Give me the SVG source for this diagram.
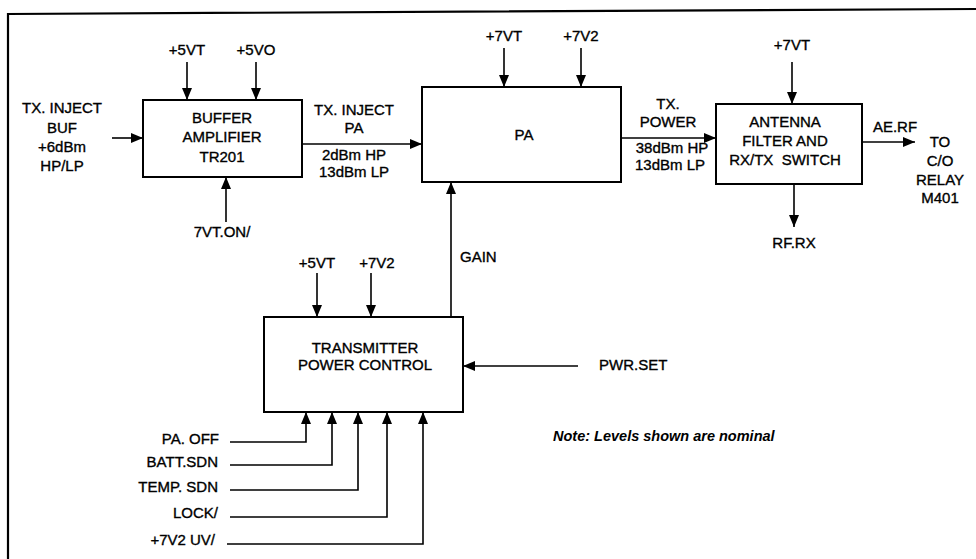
<svg xmlns="http://www.w3.org/2000/svg" width="976" height="559" viewBox="0 0 976 559">
<defs>
<style>
.t{font-family:"Liberation Sans",Arial,sans-serif;font-size:15px;fill:#000;stroke:#000;stroke-width:0.35}
.m{text-anchor:middle}
.e{text-anchor:end}
.note{font-family:"Liberation Sans",Arial,sans-serif;font-size:14.5px;font-weight:bold;font-style:italic;fill:#000}
.box{fill:#fff;stroke:#000;stroke-width:2}
.w{fill:none;stroke:#000;stroke-width:1.6}
</style>
<marker id="ar" viewBox="0 0 12 10" refX="12" refY="5" markerWidth="12" markerHeight="10" markerUnits="userSpaceOnUse" orient="auto">
<path d="M0,0 L12,5 L0,10 Z" fill="#000"/>
</marker>
</defs>
<rect width="976" height="559" fill="#fff"/>
<polyline points="8,562 8,14 976,9" fill="none" stroke="#000" stroke-width="2.2"/>

<g id="connectors">
<line class="w" x1="112" y1="138" x2="143" y2="138" marker-end="url(#ar)"/>
<line class="w" x1="187" y1="62" x2="187" y2="100" marker-end="url(#ar)"/>
<line class="w" x1="256" y1="62" x2="256" y2="100" marker-end="url(#ar)"/>
<line class="w" x1="226" y1="222" x2="226" y2="177" marker-end="url(#ar)"/>
<line class="w" x1="302" y1="144" x2="422" y2="144" marker-end="url(#ar)"/>
<line class="w" x1="504" y1="48" x2="504" y2="87" marker-end="url(#ar)"/>
<line class="w" x1="581" y1="48" x2="581" y2="87" marker-end="url(#ar)"/>
<line class="w" x1="451" y1="317" x2="451" y2="182" marker-end="url(#ar)"/>
<line class="w" x1="621" y1="138" x2="716" y2="138" marker-end="url(#ar)"/>
<line class="w" x1="792" y1="62" x2="792" y2="104" marker-end="url(#ar)"/>
<line class="w" x1="794" y1="184" x2="794" y2="227" marker-end="url(#ar)"/>
<line class="w" x1="862" y1="142" x2="915" y2="142" marker-end="url(#ar)"/>
<line class="w" x1="317" y1="273" x2="317" y2="317" marker-end="url(#ar)"/>
<line class="w" x1="371" y1="273" x2="371" y2="317" marker-end="url(#ar)"/>
<line class="w" x1="578" y1="366" x2="463" y2="366" marker-end="url(#ar)"/>
<polyline class="w" points="230,442 306,442 306,412" marker-end="url(#ar)"/>
<polyline class="w" points="230,465 332,465 332,412" marker-end="url(#ar)"/>
<polyline class="w" points="230,490 358,490 358,412" marker-end="url(#ar)"/>
<polyline class="w" points="230,517 387,517 387,412" marker-end="url(#ar)"/>
<polyline class="w" points="227,544 423,544 423,412" marker-end="url(#ar)"/>
</g>

<g id="buffer">
<rect class="box" x="143" y="100" width="159" height="77"/>
<text class="t m" x="222" y="123">BUFFER</text>
<text class="t m" x="222" y="142">AMPLIFIER</text>
<text class="t m" x="222" y="162">TR201</text>
</g>
<g id="pa">
<rect class="box" x="422" y="87" width="199" height="95"/>
<text class="t m" x="524" y="140">PA</text>
</g>
<g id="antenna">
<rect class="box" x="716" y="104" width="146" height="80"/>
<text class="t m" x="785" y="127">ANTENNA</text>
<text class="t m" x="785" y="146">FILTER AND</text>
<text class="t m" x="785" y="165" xml:space="preserve">RX/TX  SWITCH</text>
</g>
<g id="tpc">
<rect class="box" x="264" y="317" width="199" height="95"/>
<text class="t m" x="365" y="353">TRANSMITTER</text>
<text class="t m" x="365" y="370">POWER CONTROL</text>
</g>

<g id="labels">
<text class="t m" x="62" y="113">TX. INJECT</text>
<text class="t m" x="62" y="133">BUF</text>
<text class="t m" x="62" y="152">+6dBm</text>
<text class="t m" x="62" y="171">HP/LP</text>
<text class="t m" x="187" y="55">+5VT</text>
<text class="t m" x="256" y="55">+5VO</text>
<text class="t m" x="222" y="237">7VT.ON/</text>
<text class="t m" x="354" y="115">TX. INJECT</text>
<text class="t m" x="354" y="133">PA</text>
<text class="t m" x="354" y="160">2dBm HP</text>
<text class="t m" x="354" y="177">13dBm LP</text>
<text class="t m" x="504" y="41">+7VT</text>
<text class="t m" x="581" y="41">+7V2</text>
<text class="t" x="460" y="262">GAIN</text>
<text class="t m" x="668" y="109">TX.</text>
<text class="t m" x="668" y="127">POWER</text>
<text class="t m" x="672" y="153">38dBm HP</text>
<text class="t m" x="670" y="170">13dBm LP</text>
<text class="t m" x="792" y="50">+7VT</text>
<text class="t m" x="794" y="248">RF.RX</text>
<text class="t m" x="895" y="132">AE.RF</text>
<text class="t m" x="940" y="147">TO</text>
<text class="t m" x="940" y="166">C/O</text>
<text class="t m" x="940" y="185">RELAY</text>
<text class="t m" x="940" y="203">M401</text>
<text class="t m" x="317" y="268">+5VT</text>
<text class="t m" x="377" y="268">+7V2</text>
<text class="t" x="599" y="370">PWR.SET</text>
<text class="t e" x="219" y="444">PA. OFF</text>
<text class="t e" x="218" y="467">BATT.SDN</text>
<text class="t e" x="218" y="492">TEMP. SDN</text>
<text class="t e" x="218" y="518">LOCK/</text>
<text class="t e" x="215" y="545">+7V2 UV/</text>
<text class="note" x="553" y="441">Note: Levels shown are nominal</text>
</g>
</svg>
